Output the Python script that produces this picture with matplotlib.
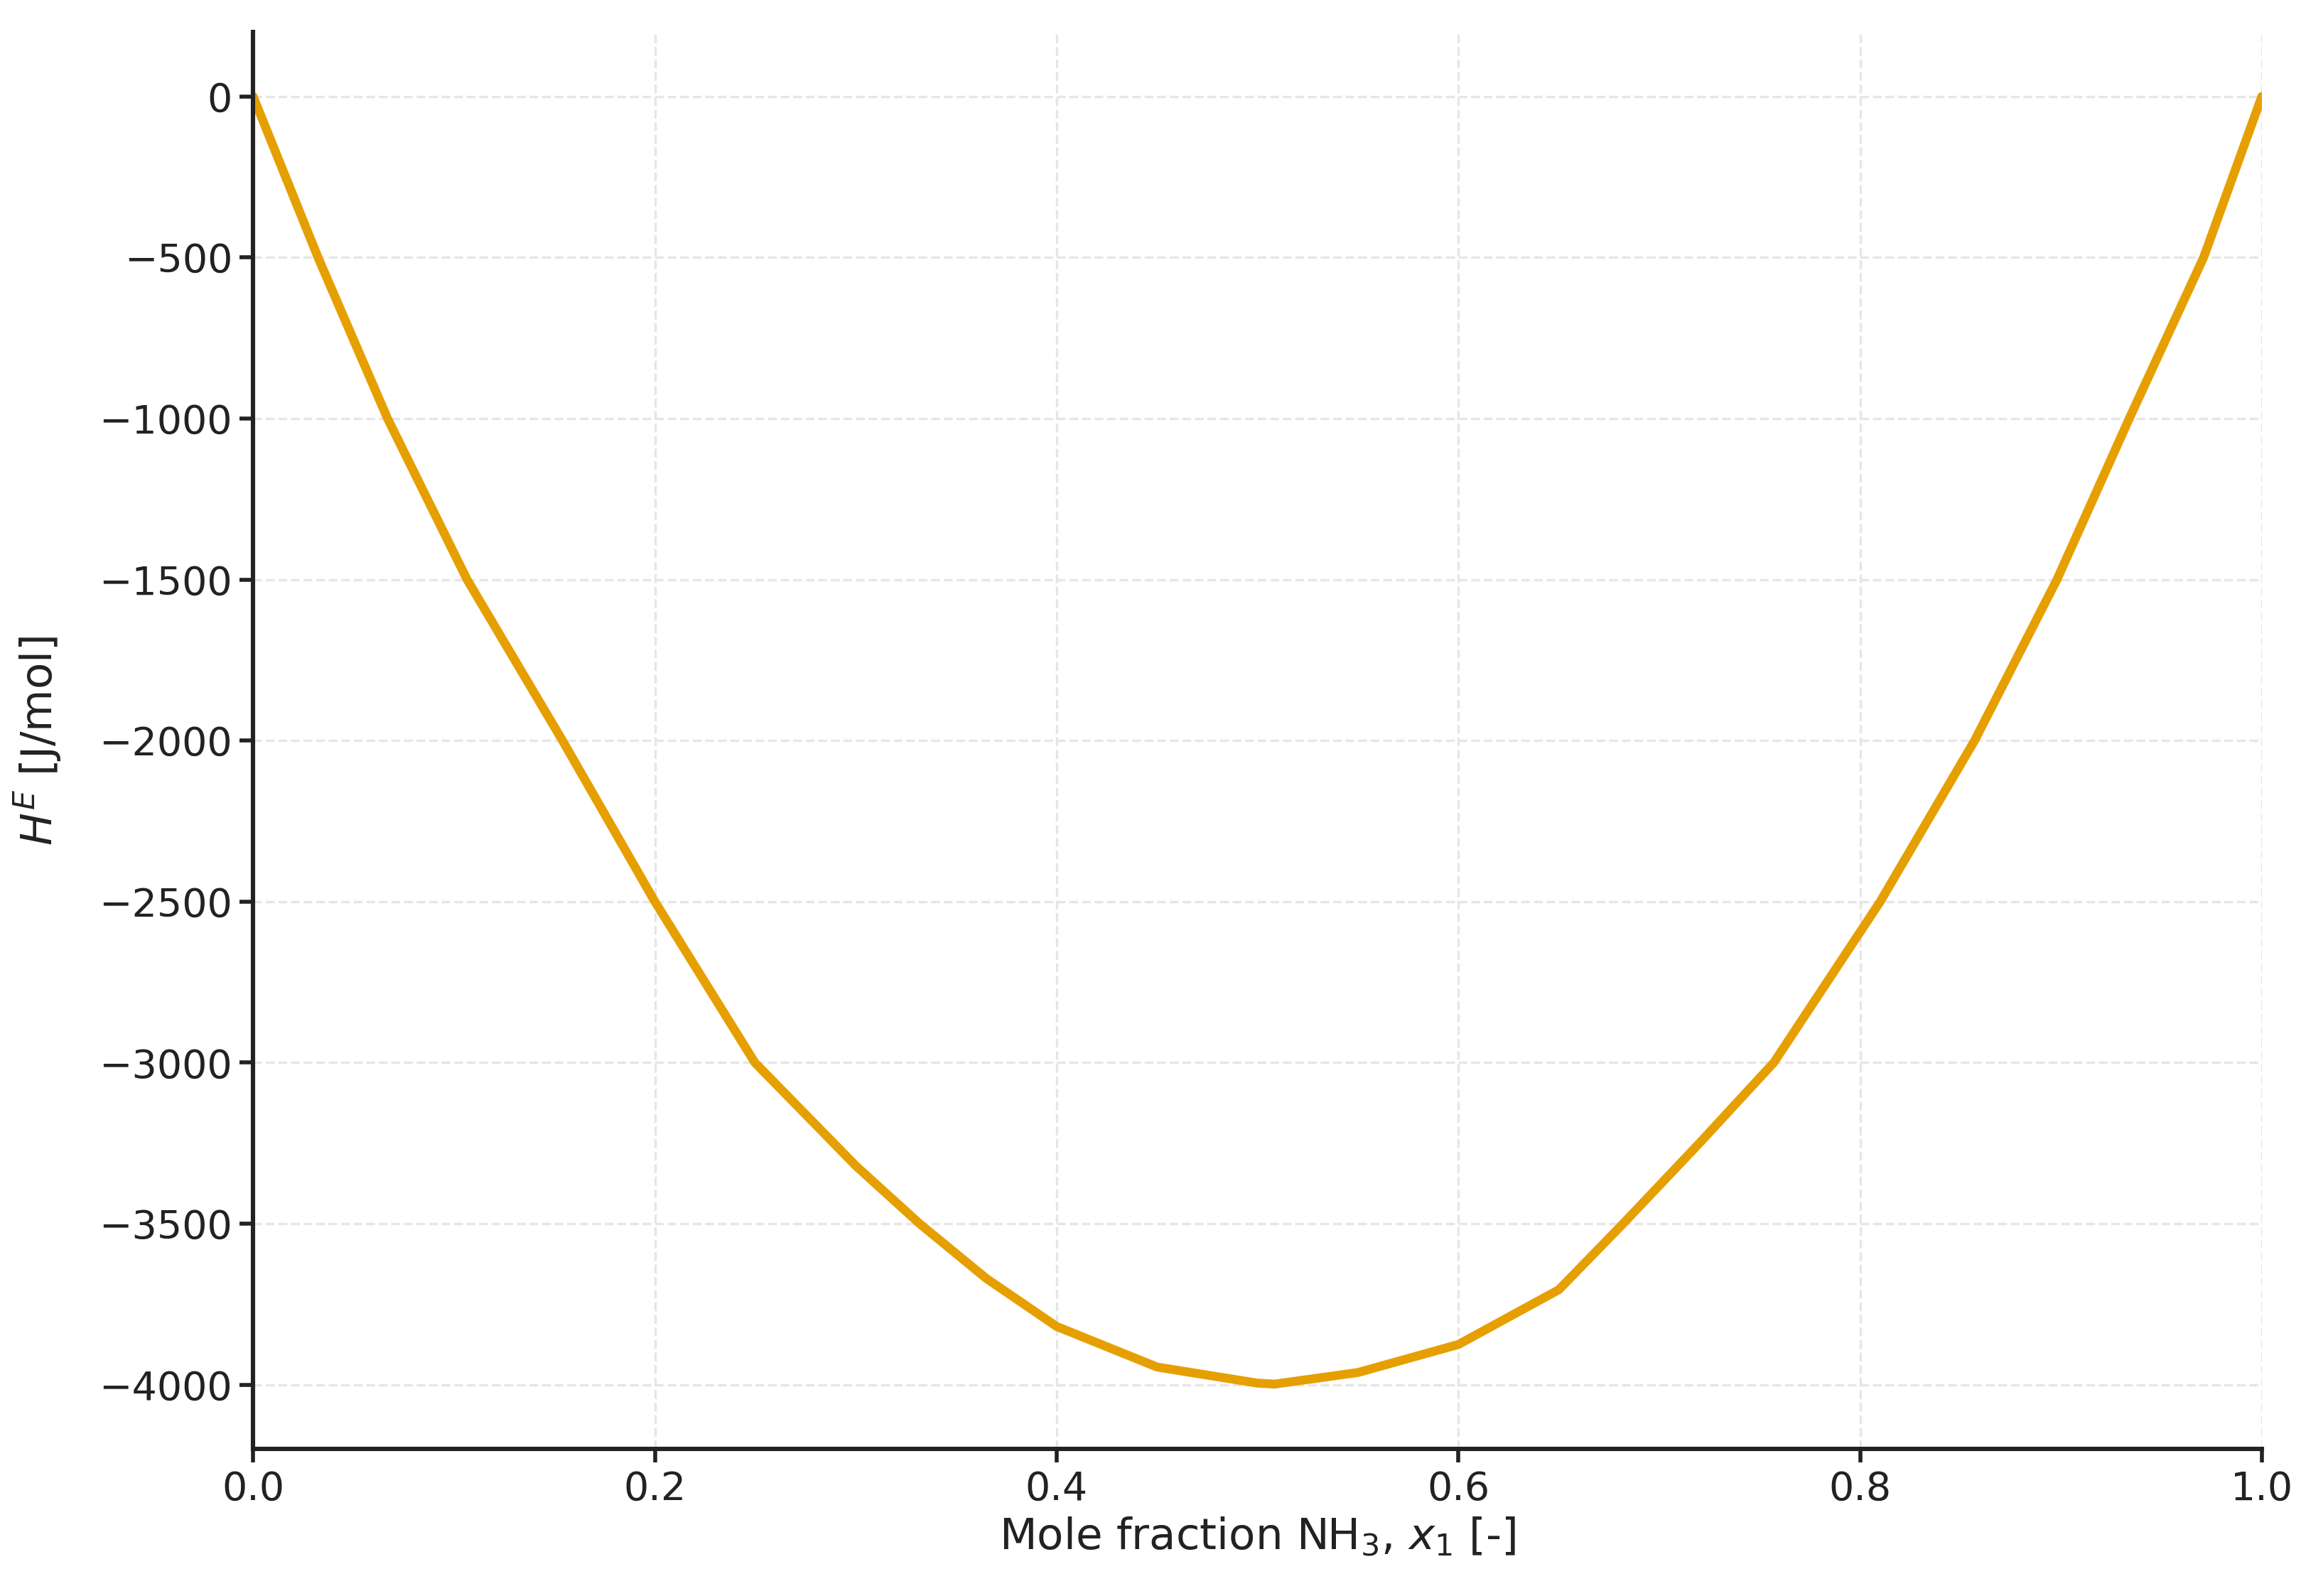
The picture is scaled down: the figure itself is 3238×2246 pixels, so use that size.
import numpy as np
import matplotlib.pyplot as plt

# values
x_frac = [0.0, 0.0323, 0.0669, 0.1065, 0.154, 0.2, 0.2498, 0.3, 0.3318, 0.365, 0.4, 0.45,
          0.5, 0.5085, 0.55, 0.6, 0.65, 0.682, 0.72, 0.757, 0.81, 0.857, 0.898, 0.934, 0.971, 1.0]
h_excess = [0, -500, -1000, -1500, -2000, -2500, -3000, -3320, -3500, -3670, -3819, -3945,
            -3995, -3998, -3962, -3875, -3705, -3500, -3250, -3000, -2500, -2000, -1500, -1000, -500, 0]

fig, ax = plt.subplots(figsize=(16.19, 11.23), dpi=200)
ax.plot(x_frac, h_excess, color="#E69F00", lw=4.5, solid_capstyle="round", solid_joinstyle="round")

ax.set_xlim(0, 1)
ax.set_ylim(-4200, 200)
ax.set_yticks(np.arange(-4000, 1, 500))
ax.grid(True, ls="--", color="#e6e6e6", lw=1.2)
ax.spines["top"].set_visible(False)
ax.spines["right"].set_visible(False)
for s in ["left", "bottom"]:
    ax.spines[s].set_linewidth(2.2)
    ax.spines[s].set_color("#222222")
ax.tick_params(labelsize=20, width=2, length=7, colors="#222222")
ax.set_xlabel(r"Mole fraction NH$_3$, $x_1$ [-]", fontsize=22, color="#222222")
ax.set_ylabel(r"$H^E$ [J/mol]", fontsize=22, color="#222222", labelpad=18)

plt.subplots_adjust(left=0.11, right=0.983, bottom=0.092, top=0.98)
plt.savefig("out.png")
